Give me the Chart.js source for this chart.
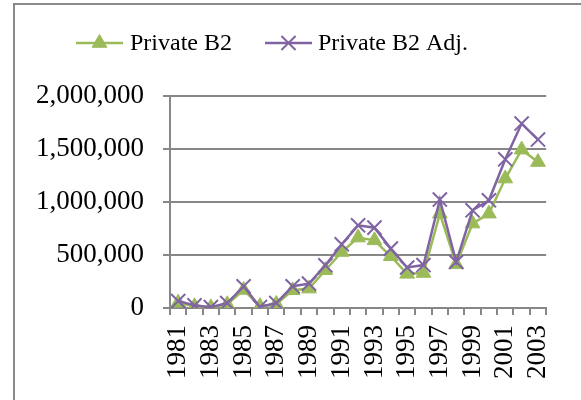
<!DOCTYPE html>
<html>
<head>
<meta charset="utf-8">
<script src="https://cdn.jsdelivr.net/npm/chart.js@4/dist/chart.umd.min.js"></script>
<style>
html,body{margin:0;padding:0;background:#fff;}
#wrap{position:relative;width:581px;height:400px;}
</style>
</head>
<body>
<div id="wrap"><canvas id="c" width="581" height="400"></canvas></div>
<script>
const years = ["1981","1982","1983","1984","1985","1986","1987","1988","1989","1990","1991","1992","1993","1994","1995","1996","1997","1998","1999","2000","2001","2002","2003"];
const privateB2 = [50000, 16000, 5000, 35000, 170000, 16000, 38000, 167000, 183000, 356000, 528000, 664000, 638000, 488000, 322000, 330000, 890000, 412000, 796000, 890000, 1221000, 1494000, 1377000];
const privateB2Adj = [66000, 25000, 8000, 47000, 205000, 10000, 47000, 205000, 230000, 403000, 601000, 780000, 758000, 560000, 382000, 405000, 1023000, 434000, 922000, 1016000, 1403000, 1740000, 1589000];
const seriesNames = ["Private B2", "Private B2 Adj."];
const yTicks = [0, 500000, 1000000, 1500000, 2000000];

const GREEN = '#9BBB59', PURPLE = '#8064A2', GRID = '#878787';
const FONT = '"Liberation Serif", "Times New Roman", serif';

const frame = {
  id: 'frame',
  beforeDraw(chart) {
    const ctx = chart.ctx;
    ctx.save();
    ctx.strokeStyle = '#8a8a8a';
    ctx.lineWidth = 2;
    ctx.beginPath();
    ctx.moveTo(14, 400);
    ctx.lineTo(14, 4);
    ctx.lineTo(600, 4);
    ctx.stroke();
    ctx.restore();
  }
};

const legendPlug = {
  id: 'customLegend',
  afterDraw(chart) {
    const ctx = chart.ctx;
    const y = 43;
    const items = [
      {x0: 76, x1: 123, tx: 130, ds: chart.data.datasets[0]},
      {x0: 265, x1: 312, tx: 318, ds: chart.data.datasets[1]}
    ];
    ctx.save();
    items.forEach(it => {
      const ds = it.ds;
      ctx.strokeStyle = ds.borderColor;
      ctx.fillStyle = ds.borderColor;
      ctx.lineWidth = ds.borderWidth;
      ctx.beginPath();
      ctx.moveTo(it.x0, y);
      ctx.lineTo(it.x1, y);
      ctx.stroke();
      ctx.lineWidth = ds.pointBorderWidth;
      Chart.helpers.drawPoint(ctx, {
        pointStyle: ds.pointStyle,
        radius: ds.pointRadius,
        borderWidth: ds.pointBorderWidth
      }, (it.x0 + it.x1) / 2, y);
      ctx.fillStyle = '#000';
      ctx.font = '24px ' + FONT;
      ctx.textBaseline = 'middle';
      ctx.textAlign = 'left';
      ctx.fillText(ds.label, it.tx, y + 1);
    });
    ctx.restore();
  }
};

new Chart(document.getElementById('c'), {
  type: 'line',
  data: {
    labels: years,
    datasets: [
      {
        label: seriesNames[0],
        data: privateB2,
        borderColor: GREEN,
        backgroundColor: GREEN,
        borderWidth: 2.5,
        pointStyle: 'triangle',
        pointRadius: 8.5,
        pointBorderWidth: 1,
        pointBorderColor: GREEN,
        pointBackgroundColor: GREEN,
        tension: 0,
        order: 2
      },
      {
        label: seriesNames[1],
        data: privateB2Adj,
        borderColor: PURPLE,
        backgroundColor: PURPLE,
        borderWidth: 2.5,
        pointStyle: 'crossRot',
        pointRadius: 10,
        pointBorderWidth: 2,
        pointBorderColor: PURPLE,
        pointBackgroundColor: PURPLE,
        tension: 0,
        order: 1
      }
    ]
  },
  options: {
    responsive: false,
    animation: false,
    layout: { padding: { top: 96, right: 28, bottom: 0, left: 0 } },
    plugins: { legend: { display: false }, tooltip: { enabled: false } },
    scales: {
      x: {
        type: 'category',
        offset: true,
        grid: { display: true, drawOnChartArea: false, drawTicks: true, tickLength: 7, color: GRID, lineWidth: 2, offset: true },
        border: { display: true, color: GRID, width: 2 },
        ticks: {
          autoSkip: false,
          minRotation: 90,
          maxRotation: 90,
          padding: 10,
          color: '#000',
          font: { family: FONT, size: 27 },
          callback: function(v, i) { return i % 2 === 0 ? years[i] : ''; }
        },
        afterFit: function(s) { s.height = 92; }
      },
      y: {
        min: 0,
        max: 2000000,
        afterBuildTicks: function(s) { s.ticks = yTicks.map(v => ({ value: v })); },
        grid: { color: GRID, lineWidth: 2, tickLength: 7, drawTicks: true },
        border: { display: true, color: GRID, width: 2 },
        ticks: {
          padding: 19,
          color: '#000',
          font: { family: FONT, size: 27 },
          callback: function(v) { return Number(v).toLocaleString('en-US'); }
        },
        afterFit: function(s) { s.width = 170; }
      }
    }
  },
  plugins: [frame, legendPlug]
});
</script>
</body>
</html>
